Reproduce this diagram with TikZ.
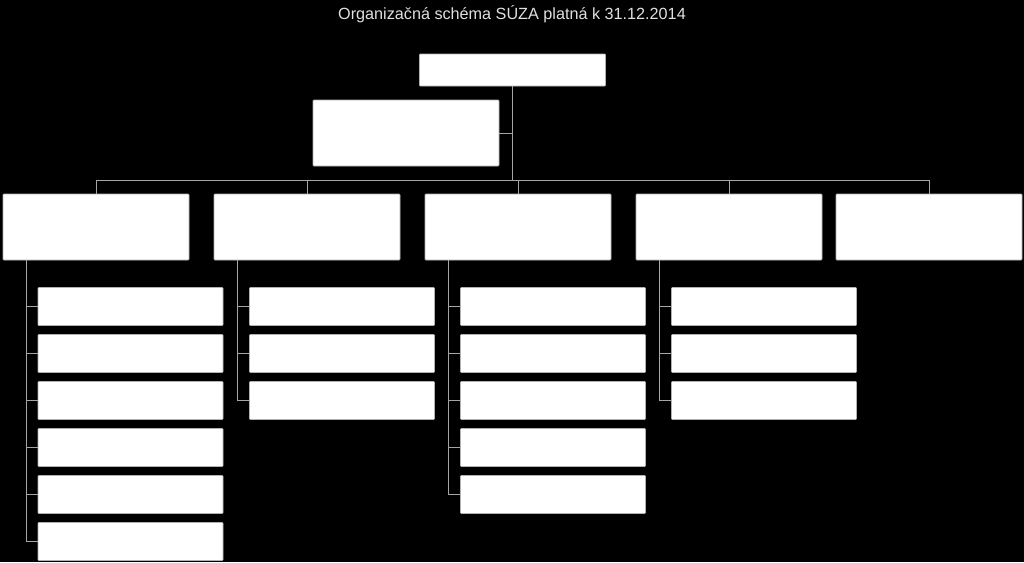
\documentclass[tikz,border=0pt]{standalone}
\usepackage{fontspec}
\setmainfont{Liberation Sans}
\usetikzlibrary{positioning}

\begin{document}
\begin{tikzpicture}[x=0.75pt,y=-0.75pt]
	\tikzstyle{unit}=[rectangle,fill=white,draw=gray!60,line width=0.4pt,inner sep=0pt,rounded corners=0.6pt]
	\tikzstyle{head}=[unit,minimum width=139.5pt,minimum height=24pt]
	\tikzstyle{dept}=[unit,minimum width=139.5pt,minimum height=49.5pt]
	\tikzstyle{section}=[unit,minimum width=138.75pt,minimum height=28.5pt]
	\tikzstyle{edge}=[draw,line width=0.6pt,-,gray!70]

	\fill[black] (0,0) rectangle (1024,562);
	\useasboundingbox (0,0) rectangle (1024,562);

	\node[text=white!88!black,font=\fontsize{12.15}{14}\selectfont] (title) at (512,14) {Organizačná schéma SÚZA platná k 31.12.2014};

	\node[head] (top) at (512.5,70) {};
	\node[dept] (asst) at (406,133) {};

	\node[dept] (d1) at (96,227) {};
	\node[dept] (d2) at (307,227) {};
	\node[dept] (d3) at (518,227) {};
	\node[dept] (d4) at (729,227) {};
	\node[dept] (d5) at (929,227) {};

	% sections under department 1
	\node[section] (s11) at (130.5,306.5) {};
	\node[section] (s12) at (130.5,353.5) {};
	\node[section] (s13) at (130.5,400.5) {};
	\node[section] (s14) at (130.5,447.5) {};
	\node[section] (s15) at (130.5,494.5) {};
	\node[section] (s16) at (130.5,541.5) {};

	% sections under department 2
	\node[section] (s21) at (342,306.5) {};
	\node[section] (s22) at (342,353.5) {};
	\node[section] (s23) at (342,400.5) {};

	% sections under department 3
	\node[section] (s31) at (553,306.5) {};
	\node[section] (s32) at (553,353.5) {};
	\node[section] (s33) at (553,400.5) {};
	\node[section] (s34) at (553,447.5) {};
	\node[section] (s35) at (553,494.5) {};

	% sections under department 4
	\node[section] (s41) at (764,306.5) {};
	\node[section] (s42) at (764,353.5) {};
	\node[section] (s43) at (764,400.5) {};

	\coordinate (bus) at (512.5,180);
	\coordinate (p1) at (26,260);
	\coordinate (p2) at (237,260);
	\coordinate (p3) at (448,260);
	\coordinate (p4) at (659,260);

	\draw[edge] (top.south) -- (bus);
	\draw[edge] (top.south) |- (asst.east);
	\draw[edge] (d1.north) |- (bus);
	\draw[edge] (d2.north) |- (bus);
	\draw[edge] (d3.north) |- (bus);
	\draw[edge] (d4.north) |- (bus);
	\draw[edge] (d5.north) |- (bus);

	\draw[edge] (p1) |- (s11.west);
	\draw[edge] (p1) |- (s12.west);
	\draw[edge] (p1) |- (s13.west);
	\draw[edge] (p1) |- (s14.west);
	\draw[edge] (p1) |- (s15.west);
	\draw[edge] (p1) |- (s16.west);

	\draw[edge] (p2) |- (s21.west);
	\draw[edge] (p2) |- (s22.west);
	\draw[edge] (p2) |- (s23.west);

	\draw[edge] (p3) |- (s31.west);
	\draw[edge] (p3) |- (s32.west);
	\draw[edge] (p3) |- (s33.west);
	\draw[edge] (p3) |- (s34.west);
	\draw[edge] (p3) |- (s35.west);

	\draw[edge] (p4) |- (s41.west);
	\draw[edge] (p4) |- (s42.west);
	\draw[edge] (p4) |- (s43.west);
\end{tikzpicture}
\end{document}
